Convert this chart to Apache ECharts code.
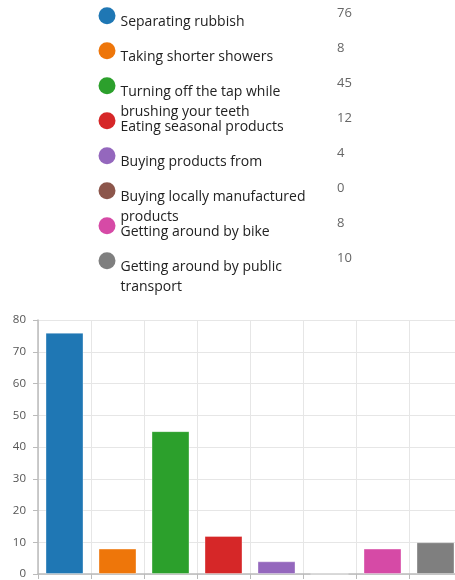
<!DOCTYPE html>
<html>
<head>
<meta charset="utf-8">
<script src="https://cdn.jsdelivr.net/npm/echarts@6/dist/echarts.min.js"></script>
<style>
html,body{margin:0;padding:0;background:#fff;overflow:hidden;width:455px;height:580px;}
#chart{width:462px;height:580px;}
</style>
</head>
<body>
<div id="chart"></div>
<script>
const categories = [
  'Separating rubbish',
  'Taking shorter showers',
  'Turning off the tap while brushing your teeth',
  'Eating seasonal products',
  'Buying products from',
  'Buying locally manufactured products',
  'Getting around by bike',
  'Getting around by public transport'
];
const values = [76, 8, 45, 12, 4, 0, 8, 10];
const colors = ['#1f77b4', '#ee760a', '#2ca02c', '#d62728', '#9467bd', '#8c564b', '#d64aa6', '#7f7f7f'];
const yTicks = [0, 10, 20, 30, 40, 50, 60, 70, 80];

const FONT = '"Open Sans", sans-serif';
const LFS = 14, LH = 20, WRAP = 195;
const ctx = document.createElement('canvas').getContext('2d');
ctx.font = LFS + 'px ' + FONT;
function wrap(t) {
  const words = t.split(' '); const lines = []; let cur = '';
  words.forEach(w => {
    const test = cur ? cur + ' ' + w : w;
    if (ctx.measureText(test).width > WRAP && cur) { lines.push(cur); cur = w; }
    else cur = test;
  });
  if (cur) lines.push(cur);
  return lines;
}

const legends = [];
const graphics = [];
categories.forEach((name, i) => {
  const c = 15.7 + 35 * i;
  const lines = wrap(name);
  const n = lines.length;
  const o = 6;
  const h = 2 * o + (n - 1) * LH;
  const H = h + n * LH;
  legends.push({
    data: [name],
    left: 98.5,
    top: c - Math.max(8.5, H / 2),
    padding: 0,
    orient: 'vertical',
    icon: 'circle',
    itemWidth: 17,
    itemHeight: 17,
    selectedMode: false,
    itemStyle: { borderWidth: 0 },
    formatter: () => '{s| }\n' + lines.map(l => '{t|' + l + '}').join('\n'),
    textStyle: {
      fontFamily: FONT, fontSize: LFS, color: '#222', lineHeight: LH,
      rich: {
        s: { fontSize: 2, lineHeight: h, height: h },
        t: { fontFamily: FONT, fontSize: LFS, color: '#222', lineHeight: LH }
      }
    }
  });
  graphics.push({
    type: 'text', x: 337, y: c - 2.4,
    style: { text: String(values[i]), fill: '#666', font: '13px ' + FONT, verticalAlign: 'middle' }
  });
});

const series = categories.map((name, i) => ({
  name: name,
  type: 'bar',
  barWidth: 38,
  barGap: '-100%',
  itemStyle: { color: colors[i], borderColor: 'rgba(255,255,255,0.35)', borderWidth: 1 },
  data: values.map((v, j) => (j === i ? v : '-'))
}));

const chart = echarts.init(document.getElementById('chart'), null, { renderer: 'canvas' });
chart.setOption({
  animation: false,
  color: colors,
  legend: legends,
  graphic: graphics,
  grid: { left: 38, right: 0, top: 320, bottom: 5, containLabel: false },
  xAxis: {
    type: 'category',
    data: categories,
    axisLabel: { show: false, interval: 0 },
    axisLine: { lineStyle: { color: '#bbb', width: 1.5 } },
    axisTick: { show: true, length: 5, interval: 0, lineStyle: { color: '#bbb' } },
    splitLine: { show: true, interval: 0, lineStyle: { color: '#e6e6e6' } }
  },
  yAxis: {
    type: 'value',
    min: 0, max: 80, interval: 10,
    axisLine: { show: true, lineStyle: { color: '#bbb', width: 1.5 } },
    axisTick: { show: true, length: 5, lineStyle: { color: '#bbb' } },
    axisLabel: { color: '#555', fontSize: 11.5, fontFamily: FONT, margin: 12,
      formatter: v => (yTicks.indexOf(v) >= 0 ? String(v) : '') },
    splitLine: { show: true, lineStyle: { color: '#e6e6e6' } }
  },
  series: series
});
</script>
</body>
</html>
